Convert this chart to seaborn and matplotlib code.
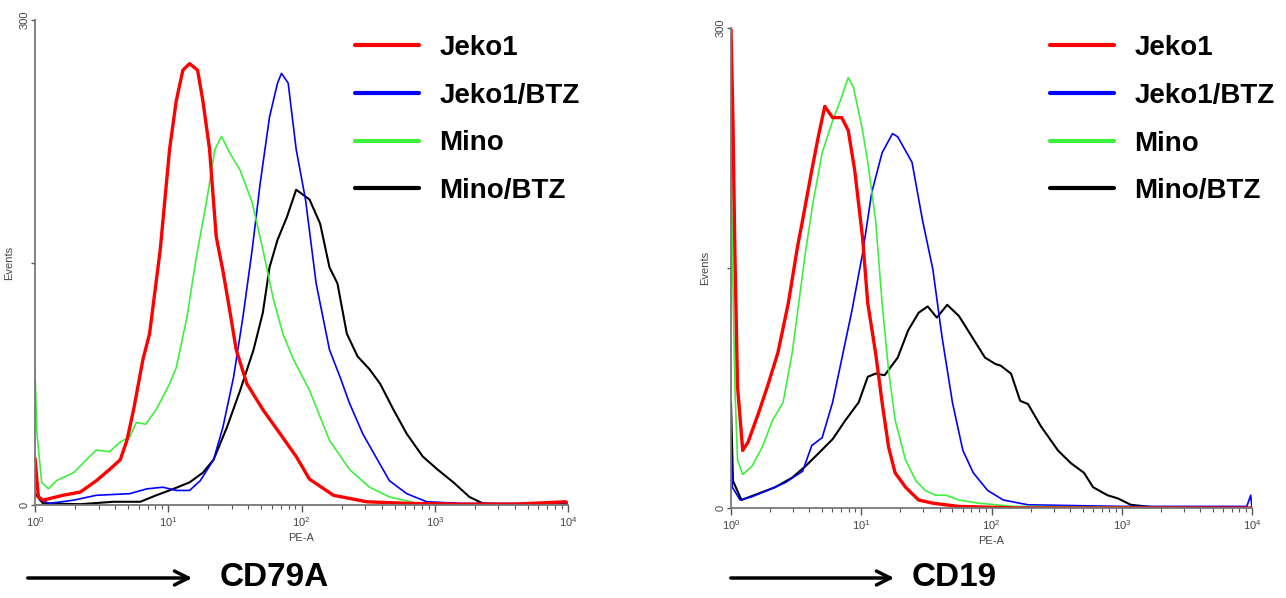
import numpy as np
import pandas as pd
import seaborn as sns
import matplotlib
matplotlib.use('Agg')
import matplotlib.pyplot as plt
from matplotlib import ticker
from matplotlib.lines import Line2D

# sample names / colours
samples = ['Jeko1', 'Jeko1/BTZ', 'Mino', 'Mino/BTZ']
colors = {'Jeko1': '#ff0000', 'Jeko1/BTZ': '#0000ff', 'Mino': '#3ef03e', 'Mino/BTZ': '#000000'}
widths = {'Jeko1': 2.4, 'Jeko1/BTZ': 1.2, 'Mino': 1.2, 'Mino/BTZ': 1.5}

# CD79A histograms (x = log10 PE-A, y = events)
cd79a_jeko1_log = [0, 0.025, 0.06, 0.21, 0.34, 0.46, 0.56, 0.64, 0.69, 0.74, 0.81, 0.86, 0.94, 1.01, 1.06, 1.11,
                   1.16, 1.22, 1.26, 1.31, 1.36, 1.41, 1.46, 1.51, 1.59, 1.71, 1.84, 1.96, 2.06, 2.24, 2.49, 2.8,
                   3.2, 3.6, 3.98, 4.0]
cd79a_jeko1_ev = [29, 5, 3, 6, 8, 15, 22, 28, 40, 59, 90, 106, 158, 220, 250, 269, 273, 269, 250, 220, 166, 145,
                  121, 96, 75, 59, 44, 30, 16, 6, 2, 1, 0.5, 0.5, 2, 1]
cd79a_jbtz_log = [0, 0.04, 0.11, 0.29, 0.46, 0.71, 0.84, 0.96, 1.06, 1.16, 1.24, 1.34, 1.41, 1.49, 1.56, 1.63,
                  1.69, 1.76, 1.82, 1.85, 1.90, 1.96, 2.03, 2.11, 2.21, 2.29, 2.36, 2.46, 2.57, 2.66, 2.79, 2.94,
                  3.2, 3.6, 4.0]
cd79a_jbtz_ev = [14, 3, 1, 3, 6, 7, 10, 11, 9, 9, 15, 28, 48, 79, 116, 158, 199, 240, 261, 267, 261, 220, 189,
                 137, 96, 79, 63, 44, 28, 15, 7, 2, 1, 1, 1]
cd79a_mino_log = [0, 0.015, 0.05, 0.1, 0.16, 0.29, 0.41, 0.46, 0.56, 0.64, 0.71, 0.76, 0.83, 0.91, 1.01, 1.06,
                  1.14, 1.21, 1.29, 1.35, 1.40, 1.46, 1.54, 1.63, 1.71, 1.79, 1.86, 1.94, 2.06, 2.21, 2.36, 2.51,
                  2.66, 2.87, 3.1, 4.0]
cd79a_mino_ev = [82, 44, 14, 10, 15, 20, 30, 34, 33, 39, 42, 51, 50, 59, 75, 85, 116, 153, 189, 220, 228, 218,
                 207, 187, 158, 127, 106, 90, 71, 40, 22, 11, 5, 1, 0, 0]
cd79a_mbtz_log = [0, 0.06, 0.34, 0.59, 0.79, 0.91, 1.04, 1.16, 1.26, 1.34, 1.44, 1.54, 1.64, 1.71, 1.76, 1.82,
                  1.89, 1.96, 2.06, 2.14, 2.21, 2.27, 2.34, 2.42, 2.51, 2.59, 2.69, 2.79, 2.91, 3.02, 3.14, 3.26,
                  3.36, 3.6, 4.0]
cd79a_mbtz_ev = [7, 1, 0.5, 2, 2, 6, 10, 14, 20, 28, 48, 71, 96, 119, 147, 164, 178, 195, 189, 174, 147, 137,
                 106, 92, 84, 75, 59, 44, 30, 22, 14, 5, 1, 0, 0]

# CD19 histograms
cd19_jeko1_log = [0, 0.015, 0.03, 0.05, 0.09, 0.13, 0.21, 0.28, 0.36, 0.44, 0.51, 0.55, 0.62, 0.67, 0.72, 0.78,
                  0.85, 0.90, 0.95, 1.01, 1.05, 1.11, 1.16, 1.21, 1.26, 1.34, 1.44, 1.55, 1.75, 2.2, 4.0]
cd19_jeko1_ev = [299, 242, 159, 76, 36, 41, 59, 76, 97, 128, 163, 180, 211, 232, 251, 244, 244, 236, 211, 169,
                 128, 97, 66, 38, 22, 13, 5, 3, 1, 0, 0]
cd19_jbtz_log = [0, 0.01, 0.07, 0.16, 0.28, 0.42, 0.55, 0.62, 0.70, 0.78, 0.85, 0.93, 1.01, 1.08, 1.16, 1.24,
                 1.28, 1.39, 1.47, 1.55, 1.62, 1.70, 1.78, 1.86, 1.97, 2.09, 2.28, 3.0, 3.9, 3.96, 3.99, 4.0]
cd19_jbtz_ev = [42, 13, 5, 7, 11, 16, 23, 39, 44, 66, 93, 124, 159, 197, 222, 234, 232, 216, 180, 149, 107, 66,
                36, 22, 11, 5, 2, 1, 1, 1, 8, 0]
cd19_mino_log = [0, 0.01, 0.03, 0.05, 0.09, 0.16, 0.24, 0.32, 0.40, 0.47, 0.52, 0.57, 0.63, 0.70, 0.78, 0.85,
                 0.90, 0.94, 1.01, 1.05, 1.11, 1.16, 1.21, 1.26, 1.34, 1.42, 1.49, 1.57, 1.65, 1.75, 1.9, 2.17, 4.0]
cd19_mino_ev = [259, 159, 76, 30, 21, 26, 38, 55, 66, 97, 128, 159, 191, 222, 242, 257, 269, 263, 236, 216, 180,
                128, 86, 55, 30, 17, 11, 8, 8, 5, 3, 1, 0]
cd19_mbtz_log = [0, 0.015, 0.08, 0.21, 0.34, 0.47, 0.57, 0.67, 0.78, 0.88, 0.98, 1.05, 1.11, 1.18, 1.28, 1.36,
                 1.44, 1.51, 1.58, 1.66, 1.75, 1.85, 1.95, 2.03, 2.07, 2.15, 2.22, 2.28, 2.38, 2.51, 2.61, 2.71,
                 2.78, 2.89, 2.97, 3.07, 3.3, 4.0]
cd19_mbtz_ev = [66, 17, 5, 9, 13, 19, 26, 34, 43, 55, 66, 82, 84, 83, 94, 111, 122, 126, 119, 127, 120, 107, 94,
                90, 89, 84, 67, 65, 51, 36, 28, 22, 13, 8, 6, 2, 0, 0]

panels = [
  ('CD79A', {'Jeko1': (cd79a_jeko1_log, cd79a_jeko1_ev), 'Jeko1/BTZ': (cd79a_jbtz_log, cd79a_jbtz_ev),
             'Mino': (cd79a_mino_log, cd79a_mino_ev), 'Mino/BTZ': (cd79a_mbtz_log, cd79a_mbtz_ev)}),
  ('CD19', {'Jeko1': (cd19_jeko1_log, cd19_jeko1_ev), 'Jeko1/BTZ': (cd19_jbtz_log, cd19_jbtz_ev),
            'Mino': (cd19_mino_log, cd19_mino_ev), 'Mino/BTZ': (cd19_mbtz_log, cd19_mbtz_ev)}),
]


def to_frame(series):
  rows = []
  for name, (lx, ev) in series.items():
    for a, b in zip(lx, ev):
      rows.append((name, 10 ** a, b))
  return pd.DataFrame(rows, columns=['sample', 'pe', 'events'])


sns.set_theme(style='white')
plt.rcParams['font.family'] = ['Liberation Sans', 'DejaVu Sans']
plt.rcParams['mathtext.fontset'] = 'custom'
plt.rcParams['mathtext.rm'] = 'Liberation Sans'
plt.rcParams['mathtext.it'] = 'Liberation Sans'
plt.rcParams['text.color'] = 'black'

W, H = 1286, 598
fig = plt.figure(figsize=(W / 100, H / 100), dpi=100)
# axes boxes in pixels: (x0, x1, y_bottom, y_top) from the image top
boxes = [(35, 568, 505, 20), (731, 1252, 508, 28)]
legend_at = [(0.60, 0.969), (0.612, 0.985)]
arrows = [(25, 195, 'CD79A', 220), (728, 897, 'CD19', 912)]
draw_order = ['Mino/BTZ', 'Jeko1/BTZ', 'Mino', 'Jeko1']

for (title, series), (x0, x1, yb, yt), anchor, (ax0, ax1, lab, lx) in zip(panels, boxes, legend_at, arrows):
  ax = fig.add_axes([x0 / W, (H - yb) / H, (x1 - x0) / W, (yb - yt) / H])
  df = to_frame(series)
  sns.lineplot(data=df, x='pe', y='events', hue='sample', hue_order=draw_order, palette=colors,
               size='sample', size_order=draw_order, sizes=widths, estimator=None, sort=True,
               legend=False, ax=ax)
  ax.set_xscale('log')
  ax.set_xlim(1, 1e4)
  ax.set_ylim(0, 300)
  ax.set_yticks([0, 150, 300])
  ax.set_yticklabels(['0', '', '300'], rotation=90, va='center', fontsize=8, color='#444444')
  ax.xaxis.set_major_locator(ticker.LogLocator(base=10, numticks=10))
  ax.xaxis.set_minor_locator(ticker.LogLocator(base=10, subs=np.arange(2, 10), numticks=20))
  ax.xaxis.set_major_formatter(ticker.LogFormatterMathtext())
  ax.xaxis.set_minor_formatter(ticker.NullFormatter())
  ax.tick_params(axis='x', which='major', length=5, width=1, color='#555555', labelsize=8,
                 labelcolor='#444444', direction='out', bottom=True, pad=2)
  ax.tick_params(axis='x', which='minor', length=3, width=0.8, color='#555555', direction='out', bottom=True)
  ax.tick_params(axis='y', which='major', length=3, width=1, color='#555555', direction='out', left=True, pad=1)
  for s in ['top', 'right']:
    ax.spines[s].set_visible(False)
  for s in ['left', 'bottom']:
    ax.spines[s].set_color('#777777')
    ax.spines[s].set_linewidth(1.3)
  ax.set_xlabel('PE-A', fontsize=8, color='#444444', labelpad=3)
  ax.set_ylabel('Events', fontsize=8, color='#444444', labelpad=4)

  handles = [Line2D([], [], color=colors[s], lw=3) for s in samples]
  leg = ax.legend(handles, samples, loc='upper left', bbox_to_anchor=anchor, frameon=False,
                  prop={'size': 20, 'weight': 'bold'}, handlelength=2.3, handletextpad=0.75,
                  labelspacing=0.78, borderpad=0, borderaxespad=0)
  for t in leg.get_texts():
    t.set_color('black')

  ax.annotate('', xy=(ax1 / W, 20 / H), xytext=(ax0 / W, 20 / H), xycoords='figure fraction',
              textcoords='figure fraction',
              arrowprops=dict(arrowstyle='->', lw=2.5, color='black', mutation_scale=25))
  fig.text(lx / W, 20 / H, lab, fontsize=24, fontweight='bold', va='center', ha='left', color='black')

fig.savefig('out.png', dpi=100)
